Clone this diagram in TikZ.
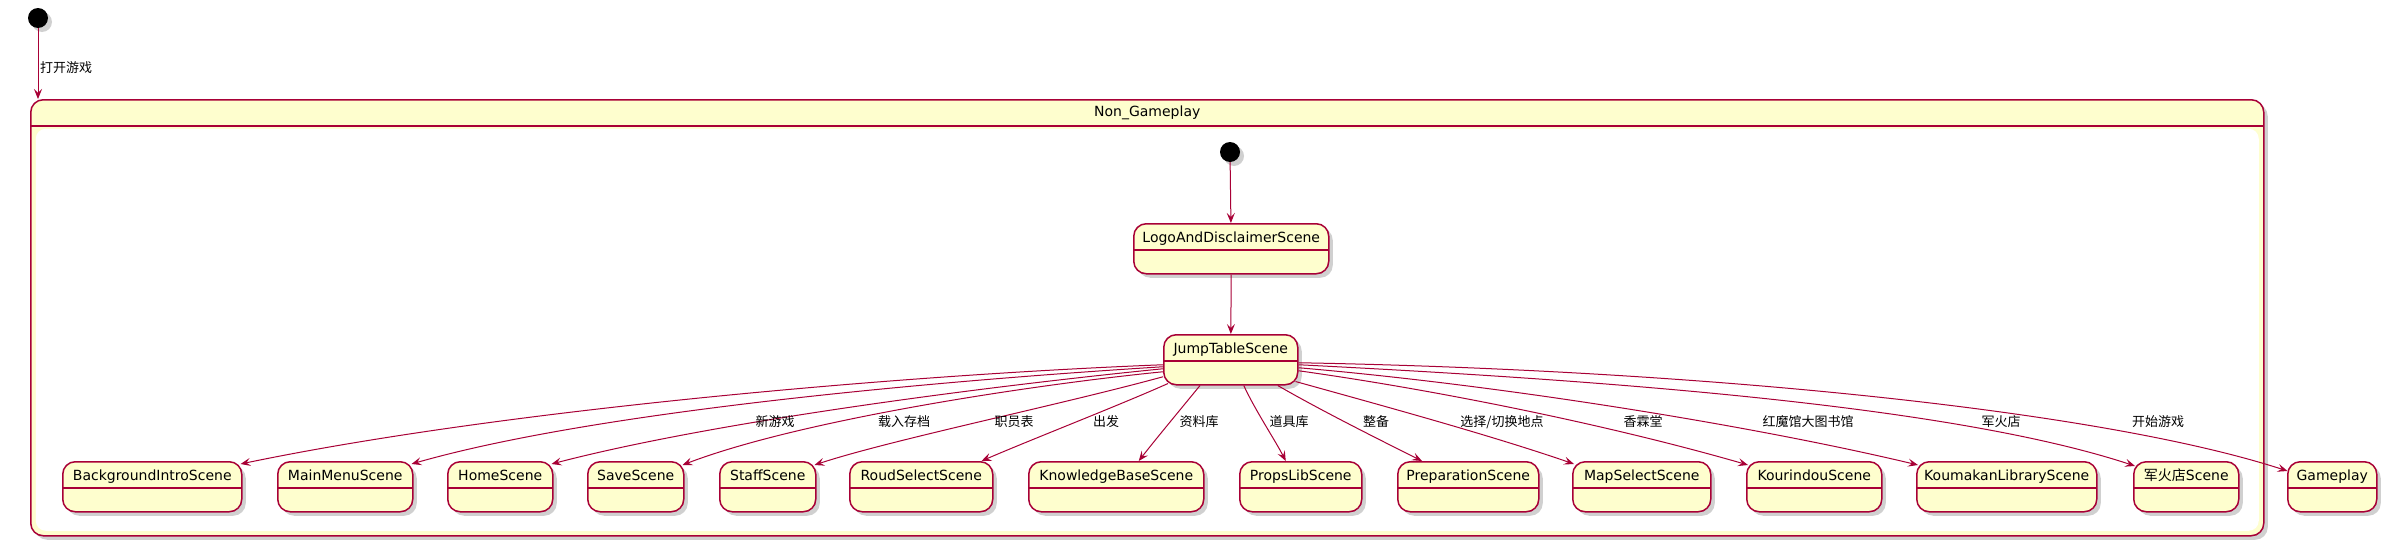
\documentclass[tikz,border=0pt]{standalone}
\usepackage{fontspec}
\setmainfont{DejaVu Sans}
\newfontfamily\cjk{Noto Sans CJK SC}
\usetikzlibrary{arrows.meta,shadows}
\definecolor{plfill}{HTML}{FEFECE}
\definecolor{plborder}{HTML}{A80036}
\begin{document}
\begin{tikzpicture}[x=1pt,y=-1pt,
  shd/.style={drop shadow={opacity=0.3,shadow xshift=4pt,shadow yshift=-4pt,fill=black!60}},
  stbox/.style={draw=plborder,fill=plfill,line width=1.5pt,rounded corners=12.5pt,inner sep=0pt,
    text height=19pt,text depth=31pt,anchor=north west,font=\fontsize{14pt}{16pt}\selectfont,shd,
    path picture={\draw[plborder,line width=1.5pt] ([yshift=-26pt]path picture bounding box.north west) -- ([yshift=-26pt]path picture bounding box.north east);}},
  compbox/.style={draw=plborder,fill=plfill,line width=1.5pt,rounded corners=12.5pt,inner sep=0pt,anchor=north west,shd,
    path picture={
      \fill[white,rounded corners=10pt] ([xshift=5pt,yshift=-29pt]path picture bounding box.north west) rectangle ([xshift=-5pt,yshift=5pt]path picture bounding box.south east);
      \draw[plborder,line width=1.5pt] ([yshift=-26pt]path picture bounding box.north west) -- ([yshift=-26pt]path picture bounding box.north east);}},
  startdot/.style={circle,fill=black,minimum size=20pt,inner sep=0pt,shd},
  conn/.style={draw=plborder,line width=1pt,-{Stealth[length=10pt,width=8pt,inset=4pt]}},
  lbl/.style={font=\cjk\fontsize{13pt}{15pt}\selectfont,inner sep=0pt}
]
\fill[white] (0,0) rectangle (2386,546);
\useasboundingbox (0,0) rectangle (2386,546);

% outer start
\node[startdot] (start) at (38,18) {};
% composite
\node[compbox,minimum width=2233pt,minimum height=436pt] (comp) at (30,99) {};
\node[anchor=base,inner sep=0pt,font=\fontsize{14pt}{16pt}\selectfont] (comptitle) at ([yshift=-17pt]comp.north) {Non\_Gameplay};
\draw[conn] (start) -- (start |- comp.north);
\node[lbl,anchor=west] (l0) at (40,68) {打开游戏};

% inner
\node[startdot] (istart) at (1230,152) {};
\node[stbox,minimum width=195pt] (logo) at (1133,223) {LogoAndDisclaimerScene};
\node[stbox,minimum width=134pt] (jump) at (1163,334) {JumpTableScene};
\draw[conn] (istart) -- (logo);
\draw[conn] (logo) -- (jump);

% bottom row
\node[stbox,minimum width=179pt] (bg) at (62,461) {BackgroundIntroScene};
\node[stbox,minimum width=135pt] (mm) at (277,461) {MainMenuScene};
\node[stbox,minimum width=105pt] (home) at (447,461) {HomeScene};
\node[stbox,minimum width=96pt] (save) at (587,461) {SaveScene};
\node[stbox,minimum width=96pt] (staff) at (719,461) {StaffScene};
\node[stbox,minimum width=143pt] (roud) at (849,461) {RoudSelectScene};
\node[stbox,minimum width=175pt] (kb) at (1028,461) {KnowledgeBaseScene};
\node[stbox,minimum width=122pt] (props) at (1239,461) {PropsLibScene};
\node[stbox,minimum width=141pt] (prep) at (1397,461) {PreparationScene};
\node[stbox,minimum width=138pt] (map) at (1572,461) {MapSelectScene};
\node[stbox,minimum width=135pt] (kouri) at (1746,461) {KourindouScene};
\node[stbox,minimum width=180pt] (kouma) at (1916,461) {KoumakanLibraryScene};
\node[stbox,minimum width=105pt] (gunshop) at (2133,461) {{\cjk 军火店}Scene};
\node[stbox,minimum width=89pt] (gameplay) at (2287,461) {Gameplay};

% edges from jump
\draw[conn] ([yshift=-5pt]jump.west) .. controls (900,375) and (500,410) .. ([xshift=-2pt,yshift=-3pt]bg.north east);
\draw[conn] ([yshift=-7pt]jump.west) .. controls (950,380) and (600,410) .. ([xshift=-2pt,yshift=-3pt]mm.north east);
\draw[conn] ([yshift=-9pt]jump.west) .. controls (1000,385) and (720,420) .. ([xshift=-2pt,yshift=-3pt]home.north east);
\draw[conn] ([yshift=-12pt]jump.west) .. controls (1030,385) and (800,420) .. ([xshift=-2pt,yshift=-4pt]save.north east);
\draw[conn] ([yshift=-17pt]jump.west) .. controls (1060,405) and (890,440) .. ([xshift=-2pt,yshift=-4pt]staff.north east);
\draw[conn] ([xshift=5pt,yshift=2pt]jump.south west) .. controls (1120,405) and (1030,440) .. ([xshift=-12pt]roud.north east);
\draw[conn] ([xshift=37pt]jump.south west) .. controls (1180,410) and (1155,440) .. ([xshift=22.5pt]kb.north);
\draw[conn] ([xshift=13pt]jump.south) .. controls (1255,410) and (1275,440) .. ([xshift=-15pt]props.north);
\draw[conn] ([xshift=47pt]jump.south) .. controls (1320,410) and (1380,440) .. ([xshift=25pt]prep.north west);
\draw[conn] ([xshift=-3pt,yshift=4pt]jump.south east) .. controls (1380,405) and (1490,435) .. ([xshift=2pt,yshift=-3pt]map.north west);
\draw[conn] ([yshift=-11pt]jump.east) .. controls (1450,392) and (1620,428) .. ([xshift=2pt,yshift=-4pt]kouri.north west);
\draw[conn] ([yshift=-8pt]jump.east) .. controls (1500,385) and (1750,425) .. ([xshift=2pt,yshift=-4pt]kouma.north west);
\draw[conn] ([yshift=-5pt]jump.east) .. controls (1600,380) and (1950,405) .. ([xshift=2pt,yshift=-5pt]gunshop.north west);
\draw[conn] ([yshift=-3pt]jump.east) .. controls (1700,370) and (2100,410) .. ([xshift=0.5pt,yshift=-10pt]gameplay.north west);

% labels
\node[lbl] (l1) at (775,422) {新游戏};
\node[lbl] (l2) at (904,422) {载入存档};
\node[lbl] (l3) at (1014,422) {职员表};
\node[lbl] (l4) at (1106,422) {出发};
\node[lbl] (l5) at (1199,422) {资料库};
\node[lbl] (l6) at (1289,422) {道具库};
\node[lbl] (l7) at (1376,422) {整备};
\node[lbl] (l8) at (1502,422) {选择/切换地点};
\node[lbl] (l9) at (1643,422) {香霖堂};
\node[lbl] (l10) at (1808,422) {红魔馆大图书馆};
\node[lbl] (l11) at (2001,422) {军火店};
\node[lbl] (l12) at (2158,422) {开始游戏};
\end{tikzpicture}
\end{document}
